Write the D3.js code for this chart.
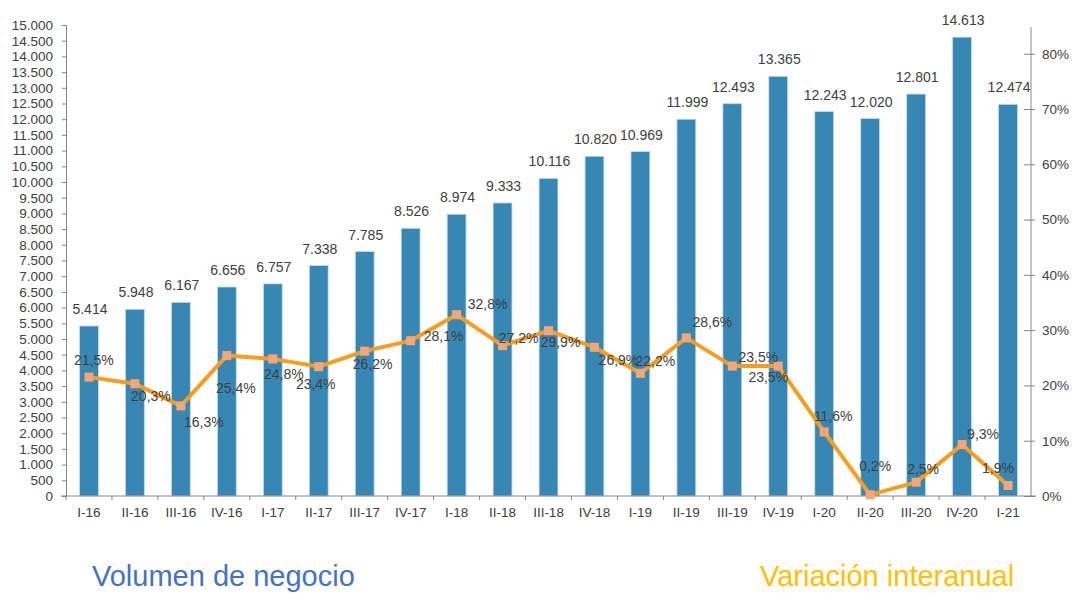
<!DOCTYPE html>
<html>
<head>
<meta charset="utf-8">
<script src="https://cdn.jsdelivr.net/npm/d3@7"></script>
<style>
  body { margin: 0; background: #fff; }
  svg { display: block; font-family: "Liberation Sans", Arial, sans-serif; }
</style>
</head>
<body>
<div id="chart"></div>
<script>
// quarters
const categories = ["I-16", "II-16", "III-16", "IV-16", "I-17", "II-17", "III-17", "IV-17",
    "I-18", "II-18", "III-18", "IV-18", "I-19", "II-19", "III-19", "IV-19",
    "I-20", "II-20", "III-20", "IV-20", "I-21"];

// Volumen de negocio
const volumen = [5414, 5948, 6167, 6656, 6757, 7338, 7785, 8526, 8974, 9333, 10116,
    10820, 10969, 11999, 12493, 13365, 12243, 12020, 12801, 14613, 12474];

// Variación interanual (%)
const variacion = [21.5, 20.3, 16.3, 25.4, 24.8, 23.4, 26.2, 28.1, 32.8, 27.2, 29.9,
    26.9, 22.2, 28.6, 23.5, 23.5, 11.6, 0.2, 2.5, 9.3, 1.9];

const leftTicks = d3.range(0, 15001, 500);
const rightTicks = [0, 10, 20, 30, 40, 50, 60, 70, 80];

// where the % labels sit relative to their point (as in the original)
const labelNudge = [[5, -17], [16, 12], [23, 16], [9, 32], [11, 15], [-3, 17], [8, 13],
    [33, -5], [31, -11], [16, -8], [12, 11], [24, 13], [15, -12], [26, -16], [26, -9],
    [-10, 11], [9, -16], [5, -29], [7, -13], [21, -11], [-10, -17]];

const width = 1073, height = 594;
const plotLeft = 66, plotRight = 1031, plotTop = 25, plotBottom = 496;

const svg = d3.select("#chart").append("svg")
    .attr("width", width)
    .attr("height", height);

const x = d3.scaleBand()
    .domain(categories)
    .range([plotLeft, plotRight])
    .paddingInner(0.59)
    .paddingOuter(0.295);

const y = d3.scaleLinear().domain([0, 15000]).range([plotBottom, plotTop]);
const y2 = d3.scaleLinear().domain([0, 85.2]).range([plotBottom, plotTop]);

const fmt = d3.formatLocale({ decimal: ",", thousands: ".", grouping: [3], currency: ["", "€"] });
const fmtInt = fmt.format(",d");
const fmtPct = d => fmt.format(".1f")(d) + "%";

const axisColor = "#868686";
const textColor = "#404040";

// bars
svg.append("g").selectAll("rect")
    .data(volumen)
    .enter().append("rect")
    .attr("x", (d, i) => x(categories[i]))
    .attr("y", d => y(d))
    .attr("width", x.bandwidth())
    .attr("height", d => plotBottom - y(d))
    .attr("fill", "#3787b4")
    .attr("stroke", "#c3dcea")
    .attr("stroke-width", 0.8);

// bar labels
svg.append("g").selectAll("text")
    .data(volumen)
    .enter().append("text")
    .attr("x", (d, i) => x(categories[i]) + x.bandwidth() / 2 + 1)
    .attr("y", d => y(d) - 12)
    .attr("text-anchor", "middle")
    .attr("fill", textColor)
    .style("font-size", "14px")
    .text(d => fmtInt(d));

// left axis
const gl = svg.append("g")
    .attr("transform", `translate(${plotLeft},0)`)
    .call(d3.axisLeft(y).tickValues(leftTicks).tickSize(4).tickPadding(9).tickSizeOuter(4)
        .tickFormat(d => fmtInt(d)));
gl.selectAll("path, line").attr("stroke", axisColor);
gl.selectAll("text").attr("fill", textColor).style("font-size", "13.5px").style("font-family", "Liberation Sans, Arial, sans-serif");

// right axis
const gr = svg.append("g")
    .attr("transform", `translate(${plotRight},0)`)
    .call(d3.axisRight(y2).tickValues(rightTicks).tickSize(0).tickPadding(11)
        .tickFormat(d => d + "%"));
gr.select(".domain").attr("stroke", axisColor).attr("d", `M0,${y2(0)}V${plotTop + 2}`);
gr.selectAll(".tick").append("line")
    .attr("x1", -7).attr("x2", 4)
    .attr("stroke", axisColor);
gr.selectAll("text").attr("fill", textColor).style("font-size", "13.5px").style("font-family", "Liberation Sans, Arial, sans-serif");

// bottom axis, ticks between categories
const gb = svg.append("g")
    .attr("transform", `translate(0,${plotBottom})`)
    .call(d3.axisBottom(x).tickSize(0).tickPadding(11));
gb.select(".domain").attr("stroke", axisColor).attr("d", `M${plotLeft - 5},0H${plotRight + 5}`);
gb.selectAll("text").attr("fill", textColor).style("font-size", "13.5px").style("font-family", "Liberation Sans, Arial, sans-serif");
gb.selectAll(".tick").append("line")
    .attr("x1", -x.step() / 2).attr("x2", -x.step() / 2)
    .attr("y1", 0).attr("y2", 4)
    .attr("stroke", axisColor);

// line
const line = d3.line()
    .x((d, i) => x(categories[i]) + x.bandwidth() / 2)
    .y(d => y2(d));

svg.append("path")
    .datum(variacion)
    .attr("fill", "none")
    .attr("stroke", "#fa9d1c")
    .attr("stroke-width", 4)
    .attr("stroke-linejoin", "round")
    .attr("d", line);

svg.append("g").selectAll("rect")
    .data(variacion)
    .enter().append("rect")
    .attr("x", (d, i) => x(categories[i]) + x.bandwidth() / 2 - 4.5)
    .attr("y", d => y2(d) - 4.5)
    .attr("width", 9)
    .attr("height", 9)
    .attr("fill", "#f9a574");

// line labels
svg.append("g").selectAll("text")
    .data(variacion)
    .enter().append("text")
    .attr("x", (d, i) => x(categories[i]) + x.bandwidth() / 2 + labelNudge[i][0])
    .attr("y", (d, i) => y2(d) + labelNudge[i][1] + 5)
    .attr("text-anchor", "middle")
    .attr("fill", textColor)
    .style("font-size", "14px")
    .text(d => fmtPct(d));

// captions below the chart
svg.append("text")
    .attr("x", 92).attr("y", 586)
    .attr("fill", "#4472c4")
    .style("font-size", "29px")
    .text("Volumen de negocio");

svg.append("text")
    .attr("x", 760).attr("y", 586)
    .attr("fill", "#ffc000")
    .style("font-size", "29px")
    .text("Variación interanual");
</script>
</body>
</html>
